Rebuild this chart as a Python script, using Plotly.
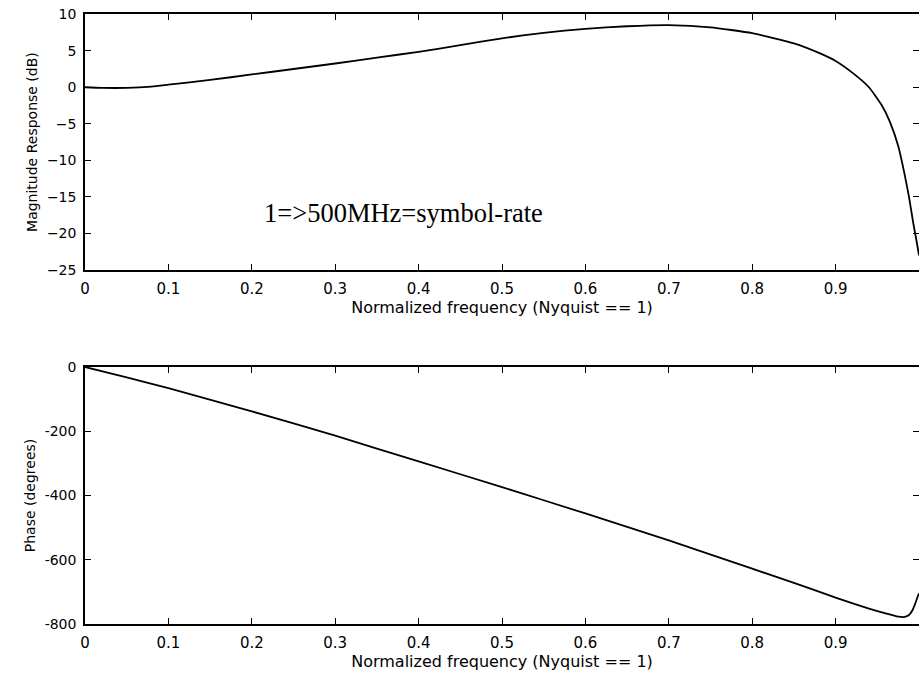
import plotly.graph_objects as go

# ---- data ----
freq_mag = [0, 0.02, 0.05, 0.08, 0.1, 0.15, 0.2, 0.25, 0.3, 0.35, 0.4, 0.45, 0.5, 0.55,
            0.6, 0.65, 0.7, 0.75, 0.8, 0.85, 0.88, 0.9, 0.92, 0.94, 0.955, 0.965,
            0.975, 0.982, 0.988, 0.993, 0.997, 1.0]
magnitude_db = [0, -0.08, -0.08, 0.1, 0.35, 1.0, 1.75, 2.5, 3.25, 4.05, 4.85, 5.75, 6.7, 7.45,
                8.0, 8.35, 8.5, 8.2, 7.4, 6.0, 4.7, 3.6, 2.0, 0.0, -2.4, -4.7,
                -8.0, -11.5, -15.0, -18.5, -21.0, -23.0]

freq_ph = [0, 0.05, 0.1, 0.2, 0.3, 0.4, 0.5, 0.6, 0.7, 0.8, 0.85, 0.9, 0.94, 0.96,
           0.975, 0.983, 0.988, 0.992, 0.995, 0.998, 1.0]
phase_deg = [0, -32, -66, -138, -214, -294, -374, -456, -540, -628, -672, -718,
             -752, -767, -777, -778, -772, -758, -740, -718, -705]

x_ticks = [0, 0.1, 0.2, 0.3, 0.4, 0.5, 0.6, 0.7, 0.8, 0.9, 1]
x_ticktext = ["0", "0.1", "0.2", "0.3", "0.4", "0.5", "0.6", "0.7", "0.8", "0.9", "1"]
mag_ticks = [10, 5, 0, -5, -10, -15, -20, -25]
mag_ticktext = ["10", "5", "0", "\u22125", "\u221210", "\u221215", "\u221220", "\u221225"]
ph_ticks = [0, -200, -400, -600, -800]
ph_ticktext = ["0", "-200", "-400", "-600", "-800"]

x_title = "Normalized frequency (Nyquist == 1)"
annotation_text = "1=>500MHz=symbol-rate"

FONT = "DejaVu Sans, Liberation Sans, Arial, sans-serif"

fig = go.Figure()
fig.add_trace(go.Scatter(x=freq_mag, y=magnitude_db, mode="lines",
                         line=dict(color="black", width=1.8, shape="spline", smoothing=0.5),
                         xaxis="x", yaxis="y", showlegend=False))
fig.add_trace(go.Scatter(x=freq_ph, y=phase_deg, mode="lines",
                         line=dict(color="black", width=1.8, shape="spline", smoothing=0.5),
                         xaxis="x2", yaxis="y2", showlegend=False))

axis_common = dict(showline=True, linecolor="black", linewidth=1.5, mirror="ticks",
                   ticks="inside", ticklen=6, tickcolor="black", tickwidth=1.3,
                   showgrid=False, zeroline=False, automargin=False)
xtick_font = dict(family=FONT, size=15, color="black")
ytick_font = dict(family=FONT, size=14, color="black")
xtitle_font = dict(family=FONT, size=16, color="black")
ytitle_font = dict(family=FONT, size=14, color="black")

fig.update_layout(
    width=919, height=675,
    margin=dict(l=85, r=0, t=0, b=0),
    paper_bgcolor="white", plot_bgcolor="white",
    xaxis=dict(domain=[0, 1], range=[0, 1], tickvals=x_ticks, ticktext=x_ticktext,
               anchor="y", ticklabelstandoff=4, tickfont=xtick_font,
               title=dict(text=x_title, font=xtitle_font, standoff=0),
               **axis_common),
    yaxis=dict(domain=[0.6, 0.979], range=[-25, 10], tickvals=mag_ticks, ticktext=mag_ticktext,
               anchor="x", ticklabelstandoff=4, tickfont=ytick_font,
               title=dict(text="Magnitude Response (dB)", font=ytitle_font, standoff=6),
               **axis_common),
    xaxis2=dict(domain=[0, 1], range=[0, 1], tickvals=x_ticks, ticktext=x_ticktext,
                anchor="y2", ticklabelstandoff=4, tickfont=xtick_font,
                title=dict(text=x_title, font=xtitle_font, standoff=0),
                **axis_common),
    yaxis2=dict(domain=[0.0756, 0.4563], range=[-800, 0], tickvals=ph_ticks, ticktext=ph_ticktext,
                anchor="x2", ticklabelstandoff=4, tickfont=ytick_font,
                title=dict(text="Phase (degrees)", font=ytitle_font, standoff=6),
                **axis_common),
    annotations=[dict(x=0.212, y=-17.2, xref="x", yref="y", xanchor="left", yanchor="middle",
                      text=annotation_text, showarrow=False,
                      font=dict(family="Liberation Serif, Times New Roman, serif", size=26.5, color="black"))],
)

fig.write_html("out.html", config={"displayModeBar": False},
               post_script="document.body.style.margin='0';document.body.style.overflow='hidden';")
